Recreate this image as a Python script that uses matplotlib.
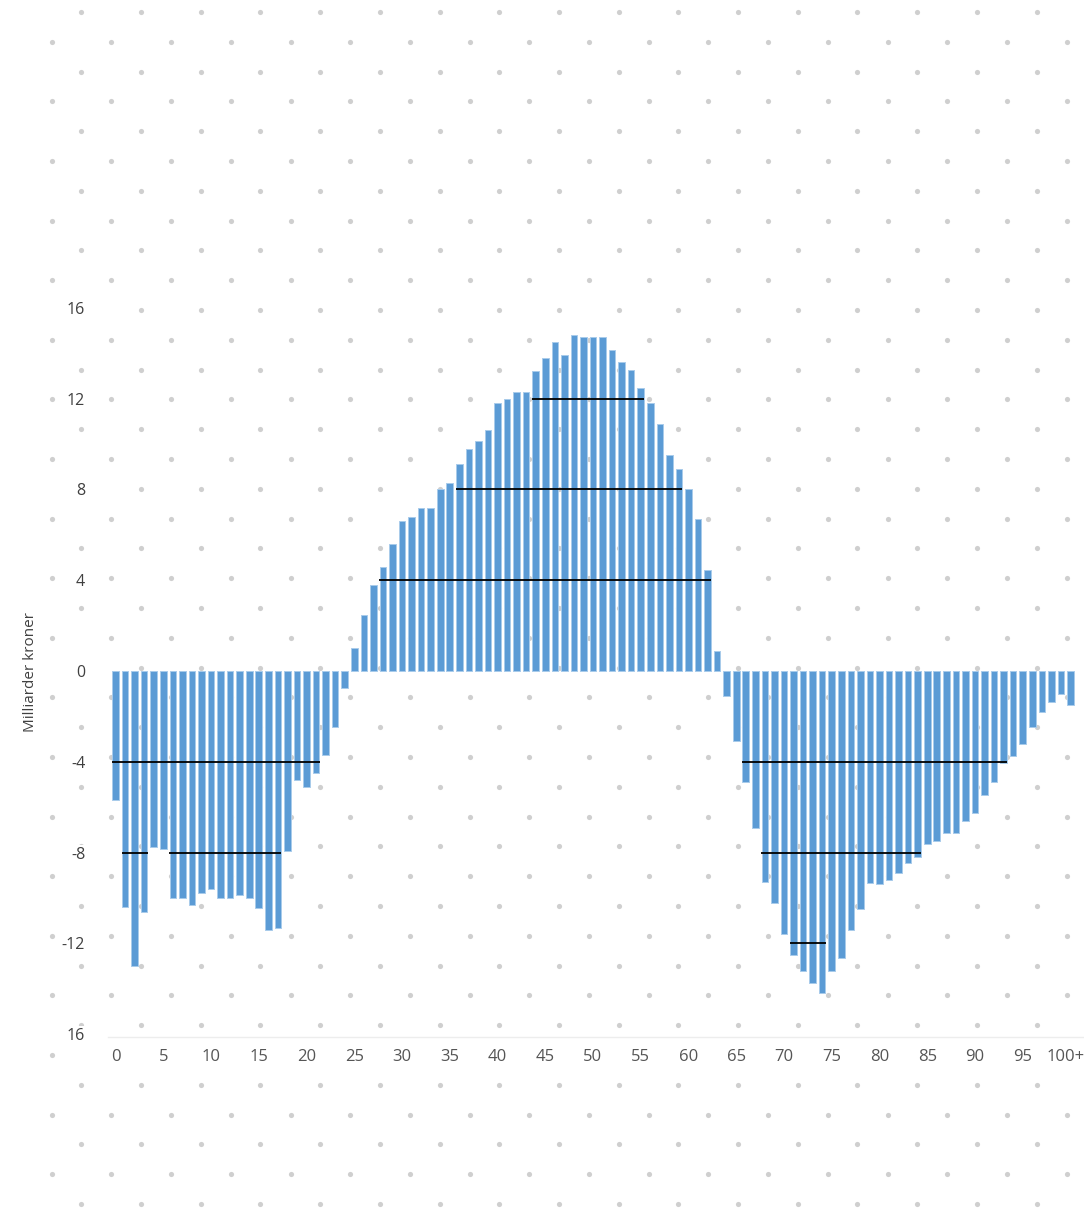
import numpy as np
import matplotlib
matplotlib.use('Agg')
import matplotlib.pyplot as plt
from matplotlib.patches import Rectangle
from matplotlib.transforms import ScaledTranslation

# ---------------- data ----------------
ages = list(range(0, 101))
values = [
    -5.7, -10.4, -13.0, -10.6, -7.75, -7.85, -10.0, -10.0, -10.3, -9.8,
    -9.6, -10.0, -10.0, -9.85, -10.0, -10.45, -11.4, -11.3, -7.95, -4.8,
    -5.1, -4.5, -3.7, -2.45, -0.75, 1.0, 2.47, 3.8, 4.6, 5.6,
    6.6, 6.8, 7.2, 7.2, 8.0, 8.3, 9.1, 9.8, 10.15, 10.6,
    11.8, 12.0, 12.3, 12.3, 13.2, 13.8, 14.5, 13.9, 14.8, 14.7,
    14.7, 14.7, 14.15, 13.6, 13.25, 12.45, 11.8, 10.9, 9.5, 8.9,
    8.0, 6.7, 4.45, 0.9, -1.1, -3.1, -4.9, -6.9, -9.3, -10.2,
    -11.6, -12.5, -13.2, -13.75, -14.2, -13.2, -12.65, -11.4, -10.5, -9.35,
    -9.4, -9.2, -8.9, -8.45, -8.2, -7.6, -7.5, -7.15, -7.15, -6.6,
    -6.25, -5.45, -4.9, -4.05, -3.75, -3.2, -2.45, -1.8, -1.35, -1.0,
    -1.5,
]
ytick_values = [16, 12, 8, 4, 0, -4, -8, -12, -16]
ytick_labels = ['16', '12', '8', '4', '0', '-4', '-8', '-12', '16']
xtick_values = list(range(0, 101, 5))
xtick_labels = [str(v) for v in range(0, 100, 5)] + ['100+']
y_label = 'Milliarder kroner'
# black gridline pieces visible across the bars: level, first age, last age
ref_levels = [4, 8, 12, -4, -8, -8, -12, -4, -8]
ref_start = [28, 36, 44, 0, 1, 6, 71, 66, 68]
ref_end = [62, 59, 55, 21, 3, 17, 74, 93, 84]

# ---------------- figure ----------------
W, H = 1084, 1211
fig = plt.figure(figsize=(W / 100, H / 100), dpi=100)
fig.patch.set_facecolor('white')
plt.rcParams['font.family'] = ['Open Sans', 'DejaVu Sans']

# background dotted paper
bg = fig.add_axes([0, 0, 1, 1], zorder=0)
bg.set_xlim(0, W)
bg.set_ylim(H, 0)
bg.axis('off')
xs, ys = [], []
for i, yy in enumerate(np.arange(12, H + 5, 29.8)):
    x0 = 81.3 if i % 2 == 0 else 51.7
    for xx in np.arange(x0, W + 5, 59.7):
        xs.append(xx)
        ys.append(yy)
bg.scatter(xs, ys, s=14, color='#cfcfcf', linewidths=0, zorder=1)
# white band behind x tick labels
bg.add_patch(Rectangle((101, 1037), W - 101, 32, facecolor='white',
                       edgecolor='none', zorder=2))
bg.plot([108, W], [1037, 1037], color='#ededed', lw=1, zorder=3)

# main chart
ax = fig.add_axes([106 / W, 1 - 1034.2 / H, 974 / W, 726.4 / H], zorder=1)
ax.patch.set_alpha(0)
ax.bar(ages, values, width=0.69, color='#5b9bd5', edgecolor='#a8cbeb',
       linewidth=0.7, zorder=2)
for lv, a, b in zip(ref_levels, ref_start, ref_end):
    ax.hlines(lv, a - 0.36, b + 0.36, color='black', lw=1.3, zorder=3)

ax.set_xlim(-1, 101)
ax.set_ylim(-16, 16)
for s in ax.spines.values():
    s.set_visible(False)
ax.set_yticks(ytick_values)
ax.set_yticklabels(ytick_labels)
ax.set_xticks(xtick_values)
ax.set_xticklabels(xtick_labels)
ax.tick_params(axis='y', length=0, labelsize=11.5, colors='#404040', pad=15)
ax.tick_params(axis='x', length=0, labelsize=12, colors='#555555', pad=11)
for t in ax.get_yticklabels():
    t.set_bbox(dict(facecolor='white', edgecolor='none', pad=1.5))
last = ax.get_xticklabels()[-1]
last.set_horizontalalignment('right')
last.set_transform(last.get_transform() +
                   ScaledTranslation(14 / 100, 0, fig.dpi_scale_trans))

fig.text(30 / W, 1 - 672 / H, y_label, rotation=90, ha='center', va='center',
         fontsize=11, color='#404040')

fig.savefig('out.png', dpi=100, facecolor='white')
